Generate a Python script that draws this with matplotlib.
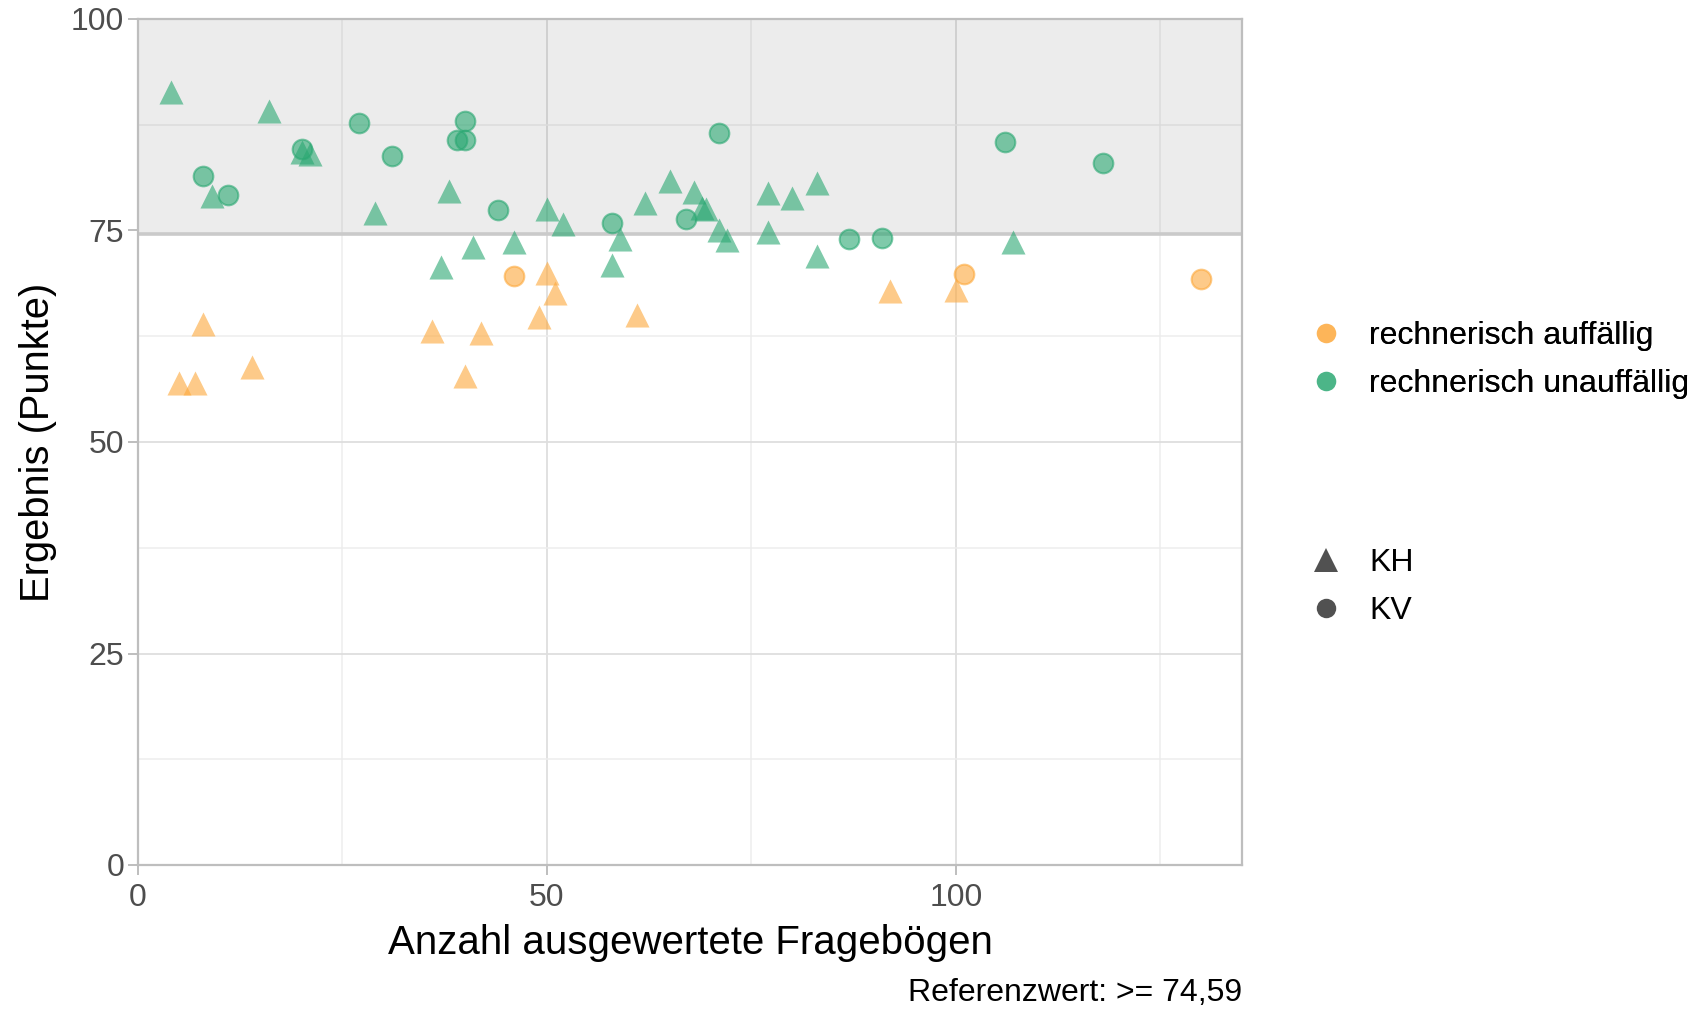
import matplotlib
matplotlib.use("Agg")
import matplotlib.pyplot as plt
from matplotlib.lines import Line2D
from matplotlib.patches import Rectangle

plt.rcParams['font.family'] = ['Liberation Sans', 'DejaVu Sans']

# ---- data ----
ref_value = 74.59
x_range = (0, 135)
y_range = (0, 100)
x_ticks = [0, 50, 100]
y_ticks = [0, 25, 50, 75, 100]

# KH = triangles, KV = circles
kh_ok_x = [4, 16, 20, 21, 9, 38, 29, 41, 46, 37, 50, 52, 59, 58, 62, 65, 68, 69, 69.5, 71, 72, 77, 80, 83, 77, 83, 107]
kh_ok_y = [91.4, 89.1, 84.3, 84.0, 79.1, 79.7, 77.1, 73.0, 73.6, 70.7, 77.6, 75.8, 74.0, 70.9, 78.3, 80.9, 79.5, 77.7, 77.6, 75.1, 73.9, 79.4, 78.8, 80.6, 74.8, 72.0, 73.6]

kv_ok_x = [20, 8, 11, 27, 31, 40, 39, 40, 44, 58, 67, 71, 87, 91, 106, 118]
kv_ok_y = [84.6, 81.5, 79.2, 87.7, 83.75, 88.0, 85.7, 85.7, 77.4, 75.9, 76.4, 86.5, 74.0, 74.1, 85.5, 83.0]

kh_bad_x = [8, 36, 42, 14, 40, 5, 7, 50, 51, 49, 61, 92, 100]
kh_bad_y = [64.0, 63.1, 62.9, 58.9, 57.8, 57.0, 57.0, 70.0, 67.6, 64.8, 65.0, 67.9, 68.0]

kv_bad_x = [46, 101, 130]
kv_bad_y = [69.6, 69.8, 69.3]

color_labels = ["rechnerisch auffällig", "rechnerisch unauffällig"]
shape_labels = ["KH", "KV"]
x_title = "Anzahl ausgewertete Fragebögen"
y_title = "Ergebnis (Punkte)"
caption = "Referenzwert: >= 74,59"

# ---- style ----
W, H = 1696, 1011
orange = '#FDA83A'
green = '#2AA872'
alpha = 0.6
tick_gray = '#4D4D4D'
frame_gray = '#BEBEBE'

fig = plt.figure(figsize=(W / 100, H / 100), dpi=100)
ax = fig.add_axes([138 / W, 1 - 865 / H, (1242 - 138) / W, (865 - 19) / H])

ax.set_xlim(*x_range)
ax.set_ylim(*y_range)
ax.set_xticks(x_ticks)
ax.set_yticks(y_ticks)
ax.set_xticks([25, 75, 125], minor=True)
ax.set_yticks([12.5, 37.5, 62.5, 87.5], minor=True)
ax.grid(True, which='major', color='#DEDEDE', lw=1.3, zorder=0)
ax.grid(True, which='minor', color='#EDEDED', lw=1.1, zorder=0)
ax.set_axisbelow(True)
for gl, v in zip(ax.get_ygridlines(), y_ticks):
    if v == 75:
        gl.set_visible(False)

ax.add_patch(Rectangle((x_range[0], ref_value), x_range[1] - x_range[0], y_range[1] - ref_value,
                       facecolor='black', alpha=0.075, edgecolor='none', zorder=1))
ax.axhline(ref_value, color='#CACACA', lw=2.6, zorder=1.5)

for s in ax.spines.values():
    s.set_color(frame_gray)
    s.set_linewidth(1.6)

ax.tick_params(which='major', length=7, width=1.4, color=frame_gray,
               labelsize=23, labelcolor=tick_gray, pad=3)
ax.tick_params(axis='x', which='major', pad=6)
ax.tick_params(which='minor', length=0)

tri_s = 300
cir_s = 200
ax.scatter(kh_ok_x, kh_ok_y, marker='^', s=tri_s, c=green, alpha=alpha, linewidths=0, zorder=3)
ax.scatter(kh_bad_x, kh_bad_y, marker='^', s=tri_s, c=orange, alpha=alpha, linewidths=0, zorder=3)
ax.scatter(kv_ok_x, kv_ok_y, marker='o', s=cir_s, c=green, edgecolors=green, alpha=alpha, linewidths=1.5, zorder=3)
ax.scatter(kv_bad_x, kv_bad_y, marker='o', s=cir_s, c=orange, edgecolors=orange, alpha=alpha, linewidths=1.5, zorder=3)

ax.set_xlabel(x_title, fontsize=29, color='black', labelpad=8)
ax.set_ylabel(y_title, fontsize=28.7, color='black', labelpad=10)

fig.text(1242 / W, 1 - 993 / H, caption, ha='right', va='center', fontsize=23, color='black')

# legends
fs = 23
h_col = [Line2D([], [], marker='o', ls='none', markersize=14, markerfacecolor=c, markeredgecolor=c,
                markeredgewidth=0, alpha=alpha)
         for c in (orange, green)]
leg1 = fig.legend(h_col, color_labels, loc='center left', bbox_to_anchor=(1310 / W, 1 - 360 / H),
                  frameon=False, fontsize=fs, borderpad=0, borderaxespad=0, handlelength=1.0,
                  handletextpad=0.85, labelspacing=0.55)
h_shape = [Line2D([], [], marker='^', ls='none', markersize=17, markerfacecolor='#333333', markeredgewidth=0, alpha=0.85),
           Line2D([], [], marker='o', ls='none', markersize=14, markerfacecolor='#333333', markeredgewidth=0, alpha=0.85)]
leg2 = fig.legend(h_shape, shape_labels, loc='center left', bbox_to_anchor=(1310 / W, 1 - 587 / H),
                  frameon=False, fontsize=fs, borderpad=0, borderaxespad=0, handlelength=1.0,
                  handletextpad=0.85, labelspacing=0.55)
fig.add_artist(leg1)

fig.savefig('out.png', dpi=100)
